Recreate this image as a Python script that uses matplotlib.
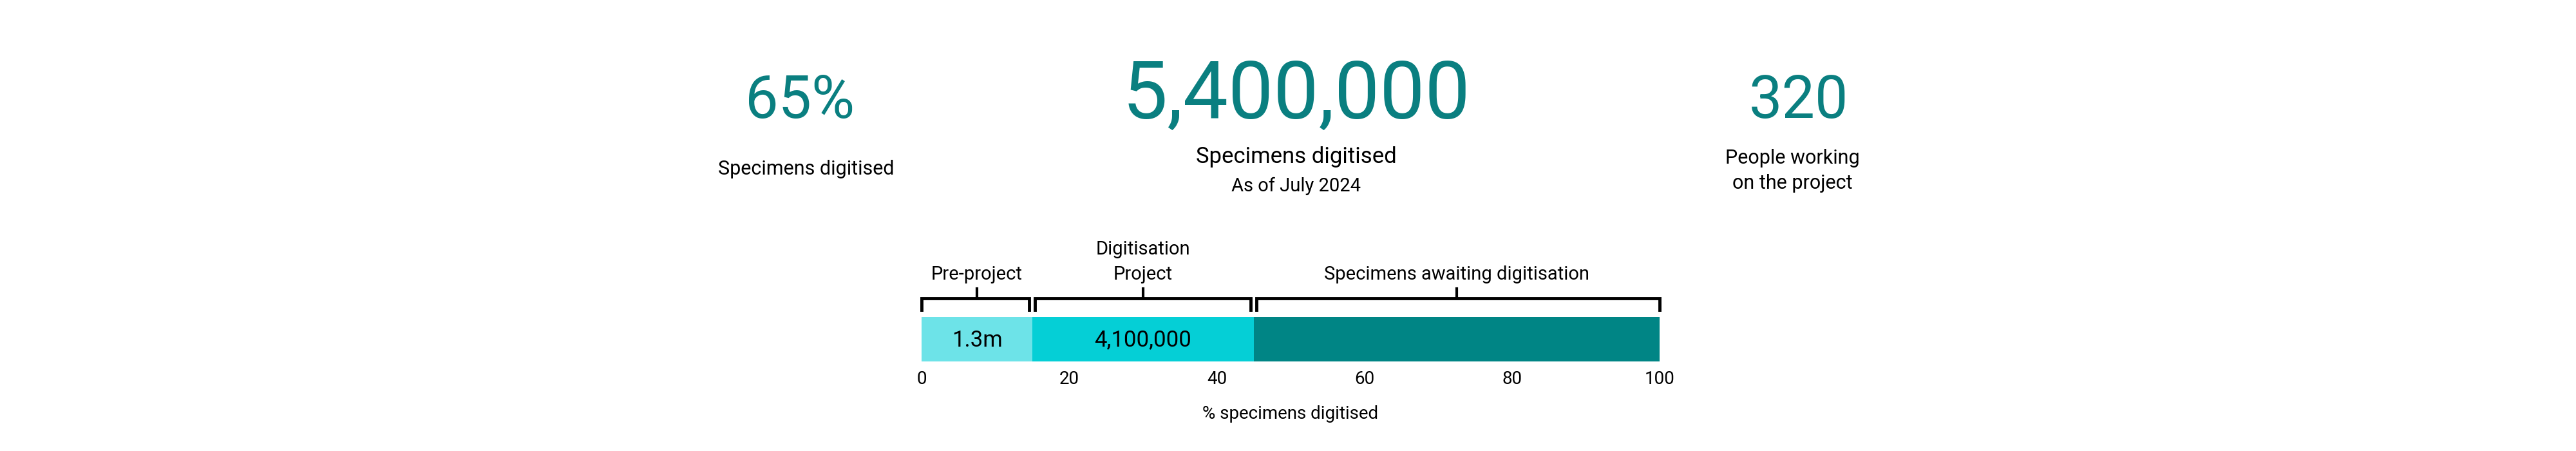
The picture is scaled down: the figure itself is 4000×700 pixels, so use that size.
import matplotlib.pyplot as plt

plt.rcParams["font.family"] = ["Roboto", "DejaVu Sans"]

# headline stats
stat_values = ["65%", "5,400,000", "320"]
stat_labels = ["Specimens digitised", "Specimens digitised", "People working\non the project"]
stat_note = "As of July 2024"

# stacked bar segments (% of specimens)
seg_names = ["Pre-project", "Digitisation\nProject", "Specimens awaiting digitisation"]
seg_widths = [15, 30, 55]
seg_texts = ["1.3m", "4,100,000", ""]
seg_colors = ["#6de3e8", "#05cfd6", "#008585"]
ticks = [0, 20, 40, 60, 80, 100]

TEAL = "#0a7f80"
W, H = 4000, 700

fig = plt.figure(figsize=(40, 7), dpi=100)
fig.patch.set_facecolor("white")

def fx(px):
    return px / W

def fy(py):
    return 1 - py / H

# ── headline numbers ──────────────────────────────────────────────
fig.text(fx(1242), fy(158), stat_values[0], color=TEAL, fontsize=66, ha="center", va="center")
fig.text(fx(2013), fy(150), stat_values[1], color=TEAL, fontsize=90, ha="center", va="center")
fig.text(fx(2793), fy(158), stat_values[2], color=TEAL, fontsize=66, ha="center", va="center")

fig.text(fx(1252), fy(263), stat_labels[0], fontsize=22, ha="center", va="center")
fig.text(fx(2013), fy(243), stat_labels[1], fontsize=25, ha="center", va="center")
fig.text(fx(2013), fy(289), stat_note, fontsize=21, ha="center", va="center")
fig.text(fx(2783), fy(265), stat_labels[2], fontsize=22, ha="center", va="center", linespacing=1.4)

# ── stacked bar with brackets ─────────────────────────────────────
ax = fig.add_axes([fx(1431), fy(561), fx(2577) - fx(1431), (561 - 360) / H])
ax.set_xlim(0, 100)
ax.set_ylim(561, 360)
ax.axis("off")

left = 0
for w, txt, c in zip(seg_widths, seg_texts, seg_colors):
    ax.barh(526.5, w, left=left, height=69, color=c, edgecolor="none")
    if txt:
        ax.text(left + w / 2, 528, txt, fontsize=25, ha="center", va="center")
    left += w

gap = 0.4
left = 0
for w, name in zip(seg_widths, seg_names):
    x0, x1 = left + (gap if left else 0), left + w - (gap if left + w < 100 else 0)
    ax.plot([x0, x0, x1, x1], [481, 463, 463, 481], color="black", lw=3.5,
            solid_joinstyle="miter", clip_on=False)
    mid = left + w / 2
    ax.plot([mid, mid], [463, 448], color="black", lw=3, clip_on=False)
    ax.text(mid, 440, name, fontsize=21, ha="center", va="bottom", linespacing=1.5)
    left += w

for t in ticks:
    ax.text(t, 588, str(t), fontsize=20, ha="center", va="center", clip_on=False)
ax.text(50, 642, "% specimens digitised", fontsize=20, ha="center", va="center", clip_on=False)

fig.savefig("out.png", dpi=100, facecolor="white")
